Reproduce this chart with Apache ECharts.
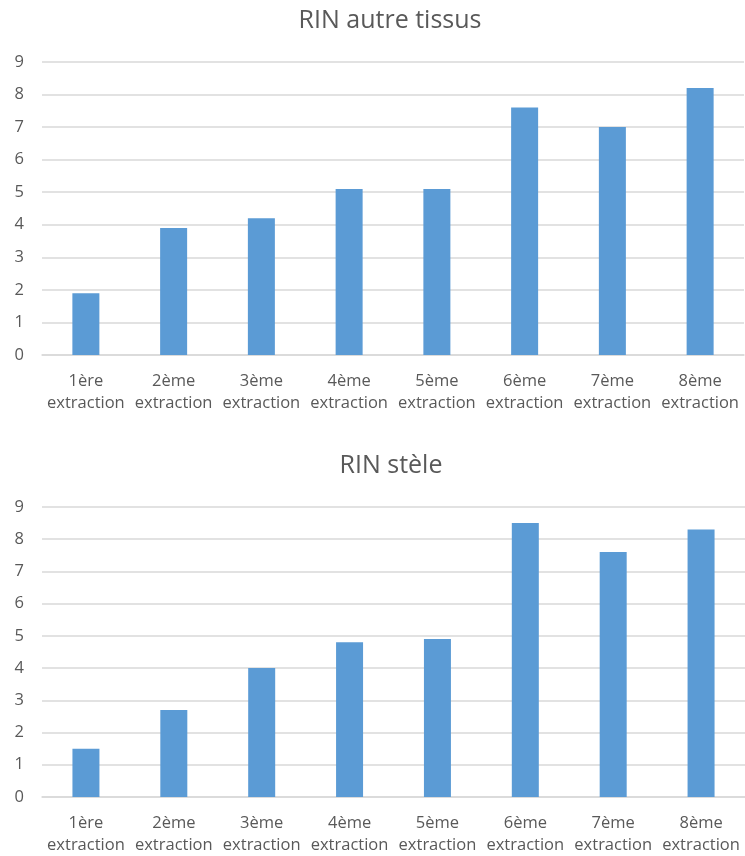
<!DOCTYPE html>
<html><head><meta charset="utf-8">
<script src="https://cdn.jsdelivr.net/npm/echarts@6/dist/echarts.min.js"></script>
<style>html,body{margin:0;padding:0;background:#fff}#c{width:745px;height:856px}</style>
</head><body><div id="c"></div>
<script>
const categories = ["1ère\nextraction","2ème\nextraction","3ème\nextraction","4ème\nextraction","5ème\nextraction","6ème\nextraction","7ème\nextraction","8ème\nextraction"];
const rinAutreTissus = [1.9, 3.9, 4.2, 5.1, 5.1, 7.6, 7.0, 8.2];
const rinStele = [1.5, 2.7, 4.0, 4.8, 4.9, 8.5, 7.6, 8.3];
const titles = ["RIN autre tissus", "RIN stèle"];
const yTicks = {min: 0, max: 9, interval: 1};

const font = "'Open Sans', sans-serif";
const grey = "#595959";
function xAxis(i){return {type:'category',gridIndex:i,data:categories,
  axisLine:{lineStyle:{color:'#d9d9d9',width:1.5}},axisTick:{show:false},
  axisLabel:{color:grey,fontFamily:font,fontSize:16.5,lineHeight:22,margin:15,interval:0}};}
function yAxis(i){return {type:'value',gridIndex:i,min:yTicks.min,max:yTicks.max,interval:yTicks.interval,
  axisLine:{show:false},axisTick:{show:false},
  splitLine:{lineStyle:{color:'#d9d9d9',width:1.5}},
  axisLabel:{color:grey,fontFamily:font,fontSize:16.5,margin:18}};}
const chart = echarts.init(document.getElementById('c'));
chart.setOption({
  animation:false,
  title:[
    {text:titles[0],left:385,top:3,textAlign:'center',textStyle:{color:grey,fontFamily:font,fontSize:25,fontWeight:'normal'}},
    {text:titles[1],left:386,top:448,textAlign:'center',textStyle:{color:grey,fontFamily:font,fontSize:25,fontWeight:'normal'}}
  ],
  grid:[
    {left:42,right:1,top:62,height:293},
    {left:42,right:-3,top:507,height:293}
  ],
  xAxis:[xAxis(0),xAxis(1)],
  yAxis:[yAxis(0),yAxis(1)],
  series:[
    {type:'bar',xAxisIndex:0,yAxisIndex:0,data:rinAutreTissus,barWidth:27,itemStyle:{color:'#5b9bd5'}},
    {type:'bar',xAxisIndex:1,yAxisIndex:1,data:rinStele,barWidth:27,itemStyle:{color:'#5b9bd5'}}
  ]
});
</script></body></html>
